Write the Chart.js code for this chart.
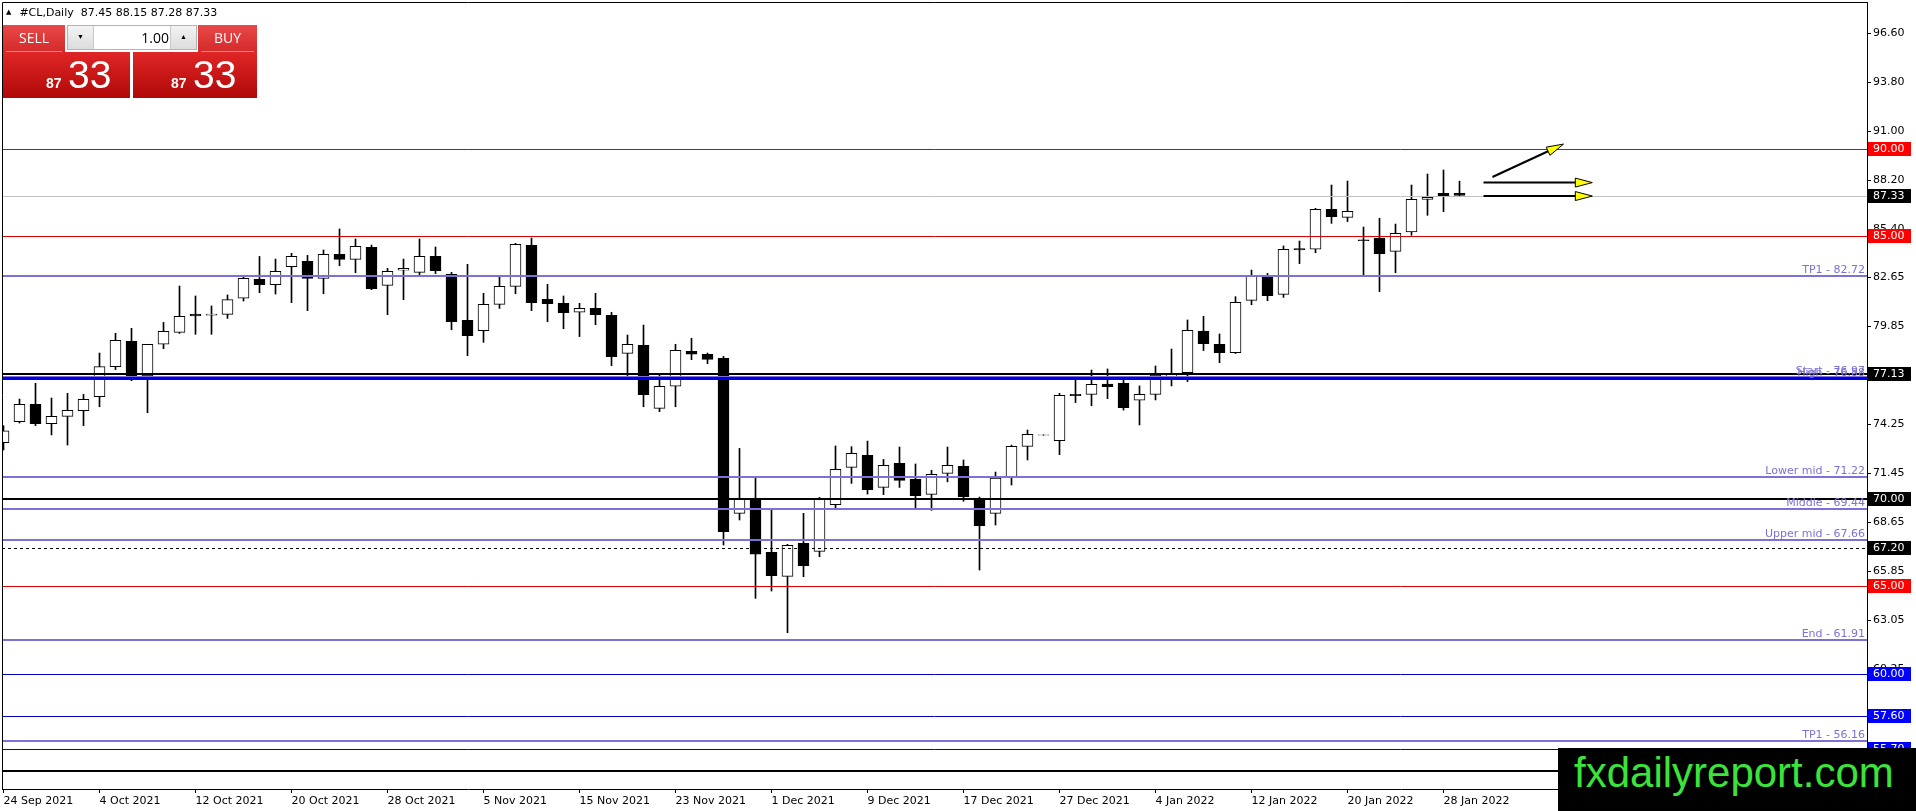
<!DOCTYPE html>
<html>
<head>
<meta charset="utf-8">
<title>#CL,Daily</title>
<script src="https://cdn.jsdelivr.net/npm/chart.js@4.4.1/dist/chart.umd.min.js"></script>
<style>
  html, body { margin: 0; padding: 0; background: #fff; }
  #wrap { position: relative; width: 1916px; height: 811px; overflow: hidden; }
  #chart { position: absolute; left: 0; top: 0; }
  .abs { position: absolute; }
  #hdr { left: 6px; top: 6px; font: 11px 'DejaVu Sans', sans-serif; line-height: 13px; white-space: pre; color: #000; }
  #hdr .tri { font-size: 7px; vertical-align: 2px; margin-right: 8px; }
  .hd { background: linear-gradient(#e84848, #d42a2a); color: #fff; font: 14px 'Open Sans', 'Liberation Sans', sans-serif;
        text-align: center; line-height: 25px; box-sizing: border-box; }
  .hd span { display: block; margin: 0 3px; border-bottom: 1px solid rgba(255,255,255,0.45); height: 26px; }
  .big { background: linear-gradient(#e02626, #b00808); }
  #spin { left: 67px; top: 25px; width: 130px; height: 25px; box-sizing: border-box; border: 1px solid #b4b4b4; background: #fff; }
  #spin .btn { position: absolute; top: 0; width: 25px; height: 23px; background: linear-gradient(#f4f4f4, #dcdcdc);
               font-size: 7px; line-height: 23px; text-align: center; color: #000; }
  #spin .val { position: absolute; left: 26px; width: 75px; top: 0; height: 23px; text-align: right;
               font: 14px 'Open Sans', 'Liberation Sans', sans-serif; line-height: 23px; color: #000; }
  .pip { color: #fff; font: bold 14px 'Liberation Sans', sans-serif; line-height: 14px; }
  .frac { color: #fff; font: 39px 'Liberation Sans Narrow', 'Liberation Sans', sans-serif; line-height: 39px; }
  #mark { left: 1558px; top: 748px; width: 358px; height: 63px; background: #000; }
  #mark span { position: absolute; left: 16px; top: 4px; color: #3be33b; font: 42px 'Liberation Sans', Arial, sans-serif; line-height: 42px; white-space: pre; }
</style>
</head>
<body>
<div id="wrap">
  <canvas id="chart" width="1916" height="811"></canvas>

  <div id="hdr" class="abs"><span class="tri">▲</span>#CL,Daily  87.45 88.15 87.28 87.33</div>

  <div class="abs hd" style="left:3px;top:25px;width:62px;height:27px;"><span>SELL</span></div>
  <div class="abs big" style="left:3px;top:52px;width:127px;height:46px;"></div>
  <div class="abs hd" style="left:198px;top:25px;width:59px;height:27px;"><span>BUY</span></div>
  <div class="abs big" style="left:133px;top:52px;width:124px;height:46px;"></div>
  <div id="spin" class="abs">
    <div class="btn" style="left:0;border-right:1px solid #c8c8c8;">▼</div>
    <div class="val">1.00</div>
    <div class="btn" style="right:0;border-left:1px solid #c8c8c8;">▲</div>
  </div>
  <div class="abs pip" style="left:46px;top:76px;">87</div>
  <div class="abs frac" style="left:68px;top:55px;">33</div>
  <div class="abs pip" style="left:171px;top:76px;">87</div>
  <div class="abs frac" style="left:193px;top:55px;">33</div>

  <div id="mark" class="abs"><span>fxdailyreport.com</span></div>
</div>

<script>
// Daily bars of #CL, 24 Sep 2021 .. 31 Jan 2022 (one entry per bar)
const opens = [73.21, 74.41, 75.40, 74.29, 74.71, 75.03, 75.84, 77.55, 79.00, 77.02,
  78.83, 79.51, 80.55, 80.50, 80.54, 81.46, 82.54, 82.24, 83.26, 83.57,
  82.60, 83.97, 83.68, 84.37, 82.20, 83.06, 82.94, 83.85, 82.83, 80.20,
  79.61, 81.11, 82.14, 84.48, 81.40, 81.17, 80.66, 80.88, 80.48, 78.31,
  78.77, 75.17, 76.43, 78.43, 78.26, 78.03, 69.17, 70.01, 66.94, 65.57,
  67.46, 67.00, 69.66, 71.80, 72.48, 70.65, 72.03, 71.13, 70.25, 71.45,
  71.85, 70.01, 69.17, 71.23, 73.00, 73.63, 73.32, 75.97, 75.97, 76.56,
  76.60, 75.63, 75.97, 76.95, 77.21, 79.59, 78.83, 78.35, 81.34, 82.67,
  81.68, 84.30, 84.26, 86.54, 86.08, 84.80, 84.90, 84.14, 85.25, 87.11,
  87.46, 87.45];
const highs = [74.18, 75.70, 76.60, 75.76, 76.03, 75.97, 78.33, 79.46, 79.74, 78.83,
  80.08, 82.16, 81.59, 81.02, 81.65, 82.70, 83.85, 83.70, 84.03, 83.91,
  84.22, 85.42, 84.85, 84.50, 83.17, 83.70, 84.85, 84.39, 82.94, 83.40,
  81.74, 82.69, 84.60, 84.90, 82.26, 81.59, 81.17, 81.74, 80.66, 79.36,
  79.93, 77.11, 78.83, 79.17, 78.33, 78.14, 72.88, 71.17, 69.45, 67.40,
  69.17, 70.08, 73.02, 72.98, 73.30, 72.25, 72.96, 71.99, 71.63, 72.96,
  72.22, 70.10, 71.53, 73.07, 73.93, 73.66, 76.03, 76.83, 77.36, 77.42,
  76.83, 76.45, 77.59, 78.56, 80.22, 80.43, 79.42, 81.55, 83.07, 82.88,
  84.45, 84.73, 86.60, 87.93, 88.16, 85.53, 86.03, 85.70, 87.93, 88.56,
  88.79, 88.15];
const lows = [72.79, 74.33, 74.18, 73.65, 73.07, 74.18, 75.26, 77.38, 76.75, 74.92,
  78.58, 79.45, 79.40, 79.40, 80.31, 81.30, 81.78, 81.70, 81.21, 80.75,
  81.72, 83.32, 82.92, 81.95, 80.52, 81.38, 82.79, 82.87, 79.66, 78.18,
  78.94, 80.88, 81.72, 80.75, 80.12, 79.72, 79.27, 79.95, 77.61, 77.04,
  75.26, 74.98, 75.26, 77.95, 77.72, 67.36, 68.79, 64.31, 64.73, 62.35,
  65.55, 66.69, 69.47, 70.88, 70.27, 70.24, 70.65, 69.45, 69.34, 70.97,
  69.86, 65.93, 68.50, 70.79, 72.22, 73.63, 72.52, 75.50, 75.32, 75.72,
  75.07, 74.22, 75.65, 76.45, 76.70, 78.47, 77.78, 78.30, 81.09, 81.32,
  81.51, 83.44, 84.06, 85.74, 85.84, 82.75, 81.84, 82.92, 85.06, 86.20,
  86.41, 87.28];
const closes = [73.89, 75.40, 74.29, 74.71, 75.06, 75.68, 77.55, 79.06, 77.02, 78.83,
  79.57, 80.43, 80.45, 80.56, 81.38, 82.60, 82.24, 83.00, 83.85, 82.60,
  83.97, 83.68, 84.43, 82.01, 83.00, 83.17, 83.85, 83.04, 80.12, 79.32,
  81.11, 82.14, 84.54, 81.21, 81.15, 80.64, 80.88, 80.52, 78.12, 78.83,
  75.95, 76.43, 78.48, 78.26, 77.97, 68.12, 70.01, 66.84, 65.61, 67.34,
  66.18, 69.97, 71.68, 72.60, 70.52, 71.91, 71.05, 70.18, 71.40, 71.91,
  70.12, 68.47, 71.19, 73.00, 73.68, 73.66, 75.91, 75.90, 76.54, 76.41,
  75.21, 75.97, 77.07, 77.15, 79.63, 78.87, 78.35, 81.23, 82.75, 81.61,
  84.26, 84.22, 86.54, 86.12, 86.43, 84.75, 84.01, 85.17, 87.11, 87.23,
  87.28, 87.33];

// time axis labels, one every 6 bars
const dateLabels = ['24 Sep 2021', '4 Oct 2021', '12 Oct 2021', '20 Oct 2021', '28 Oct 2021',
  '5 Nov 2021', '15 Nov 2021', '23 Nov 2021', '1 Dec 2021', '9 Dec 2021', '17 Dec 2021',
  '27 Dec 2021', '4 Jan 2022', '12 Jan 2022', '20 Jan 2022', '28 Jan 2022'];
const labelStep = 6;

// price axis ticks
const priceTicks = [96.60, 93.80, 91.00, 88.20, 85.40, 82.65, 79.85, 77.05, 74.25,
  71.45, 68.65, 65.85, 63.05, 60.25, 57.45, 54.65];

// horizontal levels drawn on the chart
const redLevels = [90.00, 85.00, 65.00];
const blueLevels = [60.00, 57.60, 55.70];
const blackLevels = [77.13, 70.00, 54.45];
const bidPrice = 87.33;
const dashedLevel = 67.20;
const highLevel = 76.88;
const fiboLevels = [82.72, 76.97, 71.22, 69.44, 67.66, 61.91, 56.16];
const fiboNames = ['TP1', 'Start', 'Lower mid', 'Middle', 'Upper mid', 'End', 'TP1'];

// arrow objects: [bar index, price]
const arrowFrom = [[93.06, 88.39], [92.5, 88.07], [92.5, 87.30]];
const arrowTo = [[97.5, 90.27], [99.3, 88.07], [99.3, 87.30]];

const PURPLE = '#7d70d6';
const FONT = "11px 'DejaVu Sans', sans-serif";

const bodies = opens.map((o, i) => ({ x: i, y: [o, closes[i]] }));
const wicks = lows.map((l, i) => ({ x: i, y: [l, highs[i]] }));
const bodyColors = opens.map((o, i) => closes[i] >= o ? '#ffffff' : '#000000');

function crisp(p, w) {
  return w % 2 ? Math.round(p) + 0.5 : Math.round(p);
}

const levelsPlugin = {
  id: 'levels',
  afterDatasetsDraw(chart) {
    const { ctx, chartArea: a, scales: { x, y } } = chart;
    ctx.save();
    ctx.beginPath();
    ctx.rect(a.left, a.top, a.right - a.left, a.bottom - a.top);
    ctx.clip();

    const hline = (v, color, width, dash) => {
      const py = crisp(y.getPixelForValue(v), width);
      ctx.strokeStyle = color;
      ctx.lineWidth = width;
      ctx.setLineDash(dash || []);
      ctx.beginPath();
      ctx.moveTo(a.left, py);
      ctx.lineTo(a.right, py);
      ctx.stroke();
    };

    hline(bidPrice, '#c0c0c0', 1);
    redLevels.forEach(v => hline(v, '#dd0000', 1));
    blueLevels.forEach(v => hline(v, '#0000c8', 1));
    fiboLevels.forEach(v => hline(v, PURPLE, 2));
    hline(highLevel, '#0000ee', 3);
    blackLevels.forEach(v => hline(v, '#000000', 2));
    hline(dashedLevel, '#000000', 1, [3, 3]);
    ctx.setLineDash([]);

    // level captions
    ctx.font = FONT;
    ctx.fillStyle = PURPLE;
    ctx.textAlign = 'right';
    ctx.textBaseline = 'alphabetic';
    fiboLevels.forEach((v, i) => {
      ctx.fillText(fiboNames[i] + ' - ' + v.toFixed(2), a.right - 2, Math.round(y.getPixelForValue(v)) - 3);
    });
    ctx.fillText('High - ' + highLevel.toFixed(2), a.right - 2, Math.round(y.getPixelForValue(highLevel)) - 2);

    // arrows
    arrowFrom.forEach((f, i) => {
      const x0 = x.getPixelForValue(f[0]), y0 = y.getPixelForValue(f[1]);
      const x1 = x.getPixelForValue(arrowTo[i][0]), y1 = y.getPixelForValue(arrowTo[i][1]);
      const len = Math.hypot(x1 - x0, y1 - y0);
      const ux = (x1 - x0) / len, uy = (y1 - y0) / len;
      const bx = x1 - ux * 17, by = y1 - uy * 17;
      ctx.strokeStyle = '#000';
      ctx.lineWidth = 2;
      ctx.beginPath();
      ctx.moveTo(x0, y0);
      ctx.lineTo(bx, by);
      ctx.stroke();
      ctx.beginPath();
      ctx.moveTo(x1, y1);
      ctx.lineTo(bx - uy * 4.5, by + ux * 4.5);
      ctx.lineTo(bx + uy * 4.5, by - ux * 4.5);
      ctx.closePath();
      ctx.fillStyle = '#ffff00';
      ctx.fill();
      ctx.lineWidth = 1;
      ctx.stroke();
    });
    ctx.restore();
  },
  afterDraw(chart) {
    const { ctx, chartArea: a, scales: { y } } = chart;
    ctx.save();
    // top and left frame
    ctx.strokeStyle = '#000';
    ctx.lineWidth = 1;
    ctx.beginPath();
    ctx.moveTo(a.left + 0.5, a.bottom);
    ctx.lineTo(a.left + 0.5, a.top + 0.5);
    ctx.lineTo(a.right, a.top + 0.5);
    ctx.stroke();

    // price boxes on the axis
    const box = (v, color) => {
      const py = Math.round(y.getPixelForValue(v));
      ctx.fillStyle = color;
      ctx.fillRect(a.right + 1, py - 7, 43, 14);
      ctx.fillStyle = '#fff';
      ctx.font = FONT;
      ctx.textAlign = 'left';
      ctx.textBaseline = 'middle';
      ctx.fillText(v.toFixed(2), a.right + 6, py);
    };
    redLevels.forEach(v => box(v, '#ff0000'));
    blueLevels.forEach(v => box(v, '#0000ff'));
    box(bidPrice, '#000');
    box(dashedLevel, '#000');
    blackLevels.forEach(v => box(v, '#000'));
    ctx.restore();
  }
};

Chart.defaults.font.family = "'DejaVu Sans', sans-serif";
Chart.defaults.font.size = 11;
Chart.defaults.color = '#000';

new Chart(document.getElementById('chart'), {
  type: 'bar',
  data: {
    datasets: [
      {
        data: bodies,
        backgroundColor: bodyColors,
        borderColor: '#000',
        borderWidth: 1,
        borderSkipped: false,
        barThickness: 11,
        grouped: false,
        order: 0
      },
      {
        data: wicks,
        backgroundColor: '#000',
        borderWidth: 0,
        barThickness: 1,
        grouped: false,
        order: 1
      }
    ]
  },
  options: {
    responsive: false,
    animation: false,
    devicePixelRatio: 1,
    layout: { padding: { left: 2, top: 2, right: 0, bottom: 0 } },
    plugins: { legend: { display: false }, tooltip: { enabled: false } },
    scales: {
      x: {
        type: 'linear',
        offset: false,
        min: -0.09375,
        max: 116.46875,
        afterBuildTicks: axis => {
          axis.ticks = dateLabels.map((d, i) => ({ value: i * labelStep }));
        },
        afterFit: axis => {
          axis.height = 22;
          axis.paddingLeft = 0;
          axis.paddingRight = 0;
        },
        ticks: {
          autoSkip: false,
          maxRotation: 0,
          minRotation: 0,
          align: 'start',
          padding: 2,
          callback: v => dateLabels[Math.round(v / labelStep)]
        },
        grid: { offset: false, drawOnChartArea: false, drawTicks: true, tickLength: 4, color: '#000' },
        border: { display: true, color: '#000', width: 1 }
      },
      y: {
        type: 'linear',
        position: 'right',
        min: 53.418,
        max: 98.389,
        afterBuildTicks: axis => {
          axis.ticks = priceTicks.map(v => ({ value: v }));
        },
        afterFit: axis => {
          axis.width = 49;
          axis.paddingTop = 0;
          axis.paddingBottom = 0;
        },
        ticks: {
          autoSkip: false,
          padding: 2,
          callback: v => Number(v).toFixed(2)
        },
        grid: { drawOnChartArea: false, drawTicks: true, tickLength: 4, color: '#000' },
        border: { display: true, color: '#000', width: 1 }
      }
    }
  },
  plugins: [levelsPlugin]
});
</script>
</body>
</html>
